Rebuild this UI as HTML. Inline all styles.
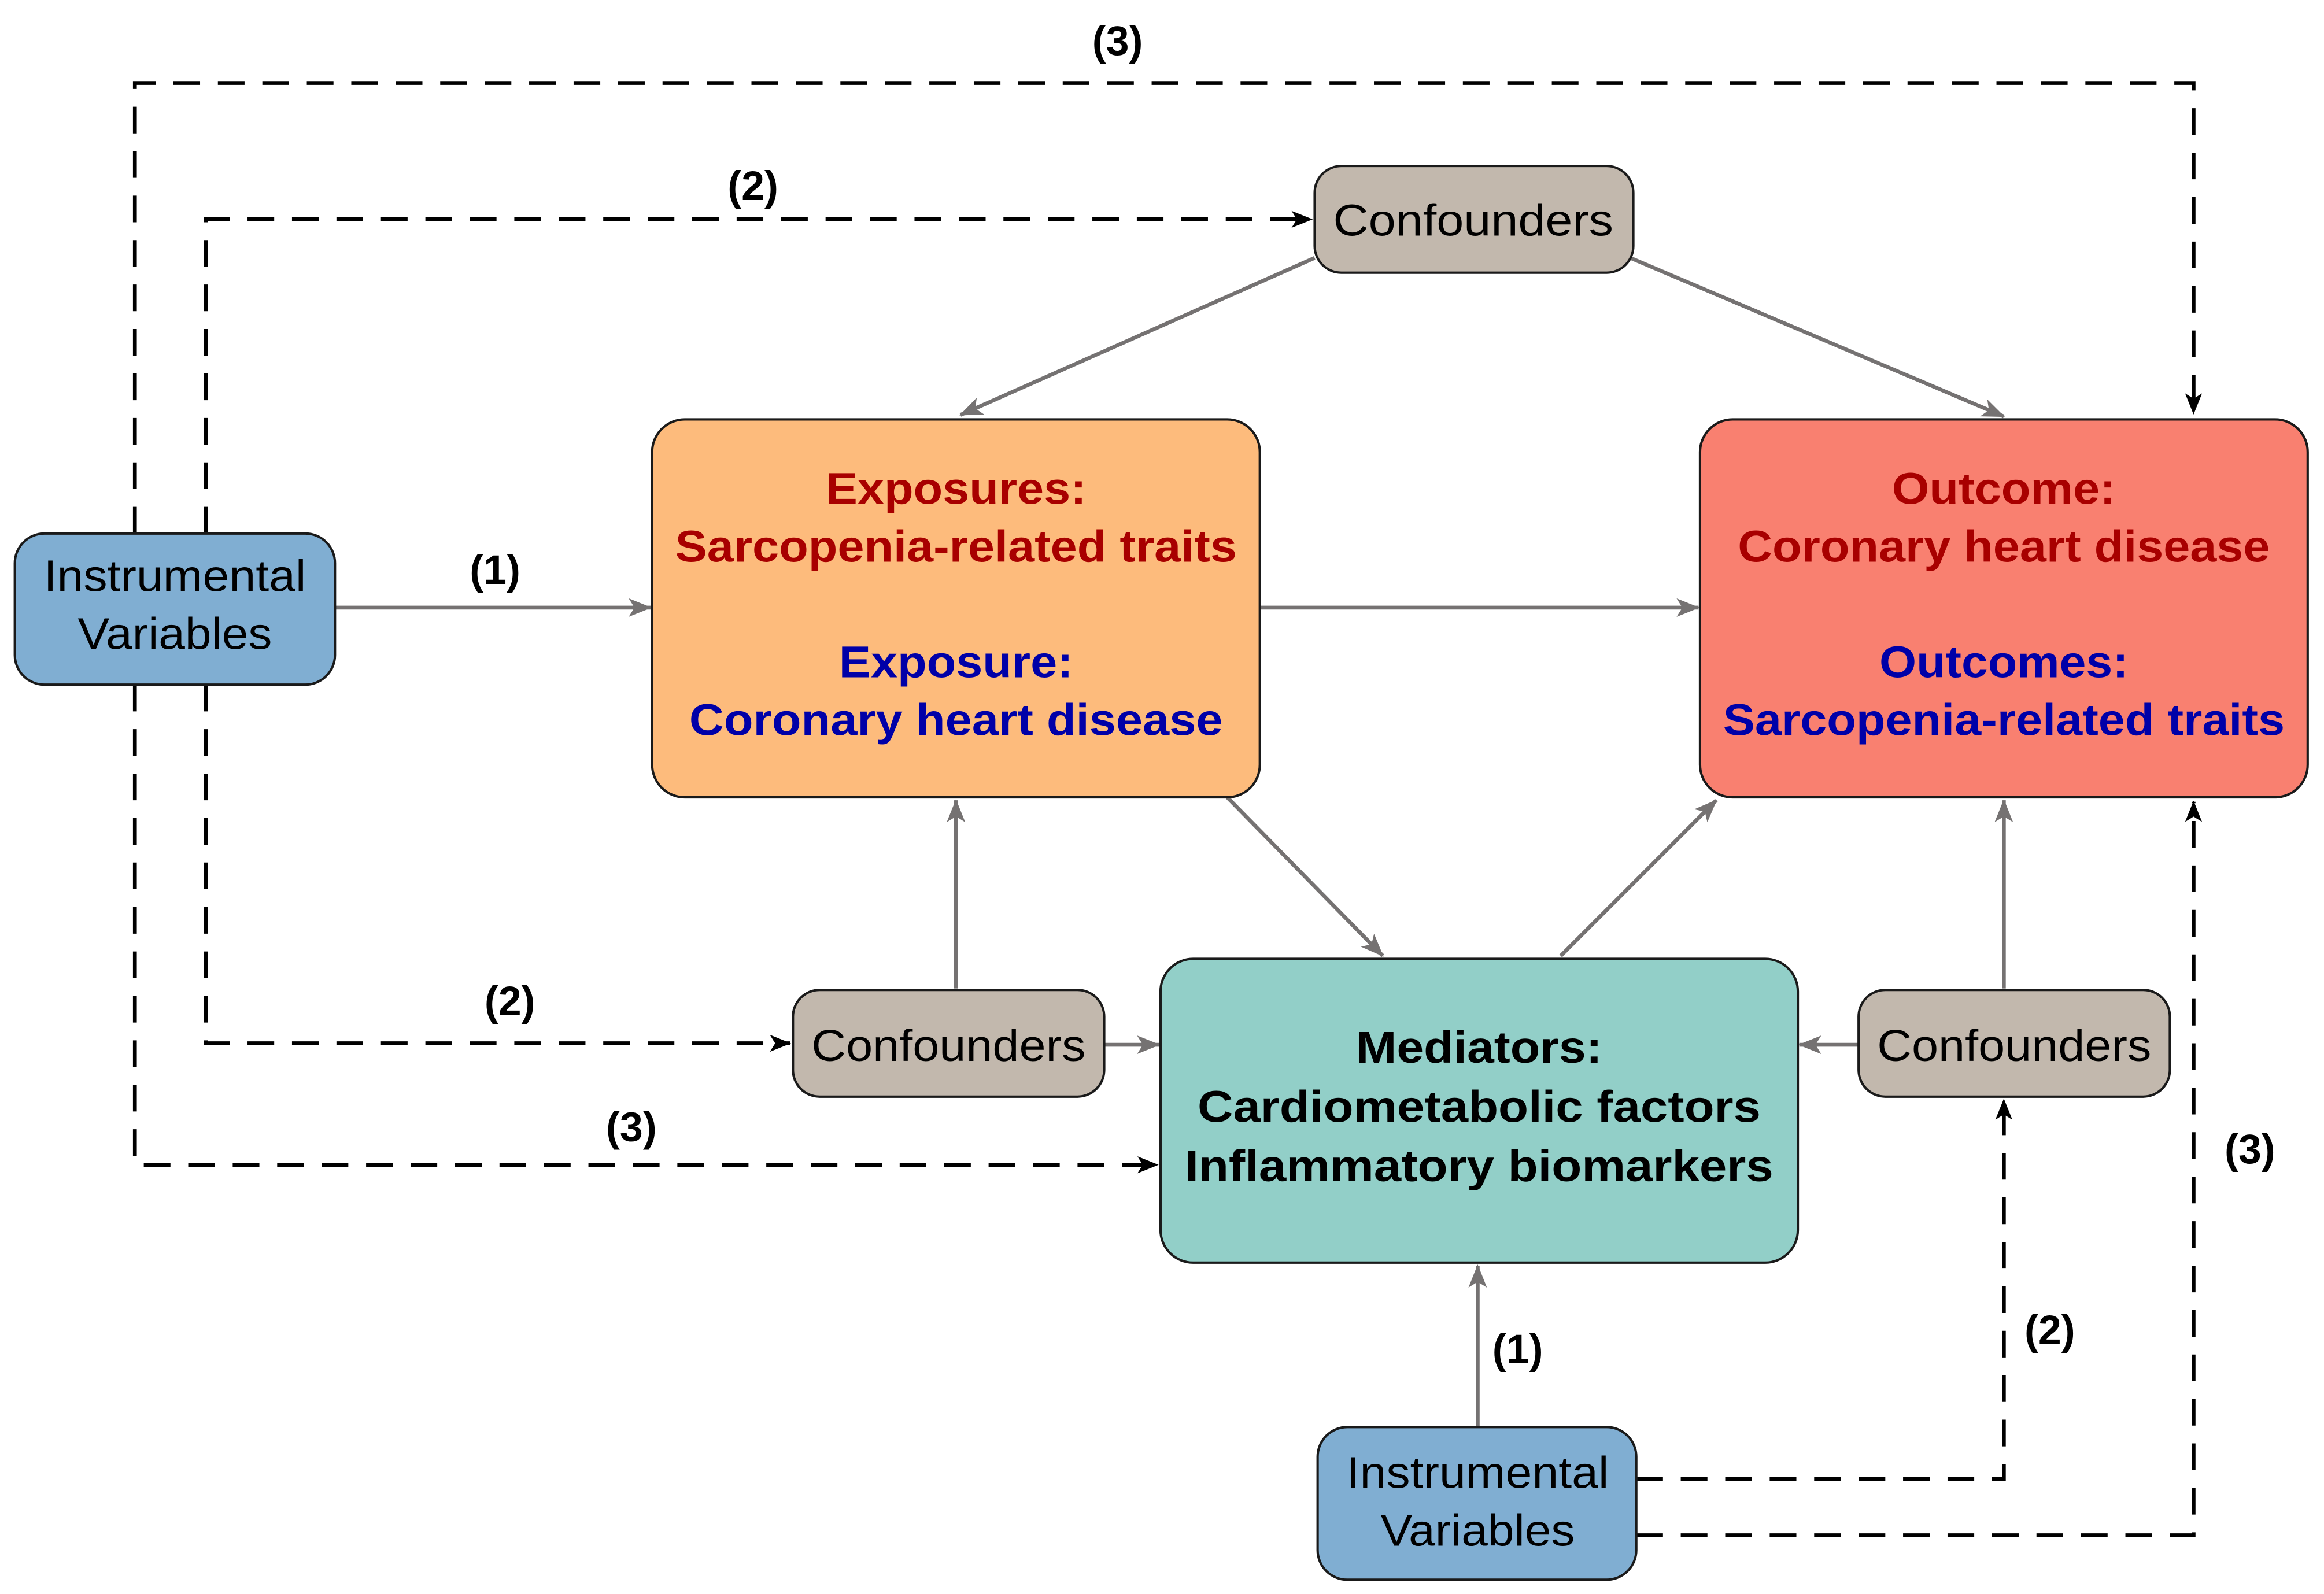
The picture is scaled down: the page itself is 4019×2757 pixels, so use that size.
<!DOCTYPE html>
<html><head><meta charset="utf-8"><style>
html,body{margin:0;padding:0;background:#fff;width:4019px;height:2757px;overflow:hidden}
svg{display:block}
text{font-family:"Liberation Sans",Arial,sans-serif}
</style></head><body>
<svg width="4019" height="2757" viewBox="0 0 1568 1075.6" xmlns="http://www.w3.org/2000/svg">
<defs>
<marker id="ga" viewBox="0 0 20 16" refX="19" refY="8" markerWidth="6" markerHeight="5" markerUnits="strokeWidth" orient="auto">
<path d="M0,0 L20,8 L0,16 L5,8 Z" fill="#757272"/></marker>
<marker id="ba" viewBox="0 0 20 16" refX="19" refY="8" markerWidth="5.5" markerHeight="4.5" markerUnits="strokeWidth" orient="auto">
<path d="M0,0 L20,8 L0,16 L5,8 Z" fill="#000"/></marker>
</defs>
<!-- dashed connectors -->
<g fill="none" stroke="#000" stroke-width="2.6" stroke-dasharray="18,12">
<path d="M91,360 V56 H1480 V279" marker-end="url(#ba)"/>
<path d="M139,360 V148 H885" marker-end="url(#ba)"/>
<path d="M139,462 V704 H533" marker-end="url(#ba)"/>
<path d="M91,462 V786 H781" marker-end="url(#ba)"/>
<path d="M1104,998 H1352 V742" marker-end="url(#ba)"/>
<path d="M1104,1036 H1480 V541" marker-end="url(#ba)"/>
</g>
<!-- solid gray connectors -->
<g fill="none" stroke="#757272" stroke-width="2.6">
<path d="M226,410 H439" marker-end="url(#ga)"/>
<path d="M850,410 H1146" marker-end="url(#ga)"/>
<path d="M887,174 L648,280" marker-end="url(#ga)"/>
<path d="M1100,174 L1352,281" marker-end="url(#ga)"/>
<path d="M828,538 L933,645" marker-end="url(#ga)"/>
<path d="M1053,645 L1158,540" marker-end="url(#ga)"/>
<path d="M645,667 V540" marker-end="url(#ga)"/>
<path d="M745,705 H782" marker-end="url(#ga)"/>
<path d="M1254,705 H1214" marker-end="url(#ga)"/>
<path d="M1352,667 V540" marker-end="url(#ga)"/>
<path d="M997,963 V854" marker-end="url(#ga)"/>
</g>
<!-- boxes -->
<g stroke="#1a1a1a" stroke-width="1.6">
<rect x="10" y="360" width="216" height="102" rx="20" fill="#80aed2"/>
<rect x="440" y="283" width="410" height="255" rx="22" fill="#fdbb7c"/>
<rect x="1147" y="283" width="410" height="255" rx="22" fill="#f98070"/>
<rect x="887" y="112" width="215" height="72" rx="18" fill="#c2b8ad"/>
<rect x="535" y="668" width="210" height="72" rx="18" fill="#c2b8ad"/>
<rect x="1254" y="668" width="210" height="72" rx="18" fill="#c2b8ad"/>
<rect x="783" y="647" width="430" height="205" rx="22" fill="#92cfc8"/>
<rect x="889" y="963" width="215" height="103" rx="20" fill="#80aed2"/>
</g>
<!-- texts -->
<g font-size="30" text-anchor="middle" fill="#000" lengthAdjust="spacingAndGlyphs">
<text x="118" y="399" textLength="177" lengthAdjust="spacingAndGlyphs">Instrumental</text>
<text x="118" y="438" textLength="131" lengthAdjust="spacingAndGlyphs">Variables</text>
<text x="997" y="1004" textLength="177" lengthAdjust="spacingAndGlyphs">Instrumental</text>
<text x="997" y="1043" textLength="131" lengthAdjust="spacingAndGlyphs">Variables</text>
<text x="994" y="159" textLength="189" lengthAdjust="spacingAndGlyphs">Confounders</text>
<text x="640" y="716" textLength="185" lengthAdjust="spacingAndGlyphs">Confounders</text>
<text x="1359" y="716" textLength="185" lengthAdjust="spacingAndGlyphs">Confounders</text>
</g>
<g font-size="30" font-weight="bold" text-anchor="middle">
<text x="645" y="340" fill="#a80000" textLength="176" lengthAdjust="spacingAndGlyphs">Exposures:</text>
<text x="645" y="379" fill="#a80000" textLength="379" lengthAdjust="spacingAndGlyphs">Sarcopenia-related traits</text>
<text x="645" y="457" fill="#0000a8" textLength="158" lengthAdjust="spacingAndGlyphs">Exposure:</text>
<text x="645" y="496" fill="#0000a8" textLength="360" lengthAdjust="spacingAndGlyphs">Coronary heart disease</text>
<text x="1352" y="340" fill="#a80000" textLength="151" lengthAdjust="spacingAndGlyphs">Outcome:</text>
<text x="1352" y="379" fill="#a80000" textLength="359" lengthAdjust="spacingAndGlyphs">Coronary heart disease</text>
<text x="1352" y="457" fill="#0000a8" textLength="168" lengthAdjust="spacingAndGlyphs">Outcomes:</text>
<text x="1352" y="496" fill="#0000a8" textLength="379" lengthAdjust="spacingAndGlyphs">Sarcopenia-related traits</text>
<text x="998" y="717" fill="#000" textLength="166" lengthAdjust="spacingAndGlyphs">Mediators:</text>
<text x="998" y="757" fill="#000" textLength="380" lengthAdjust="spacingAndGlyphs">Cardiometabolic factors</text>
<text x="998" y="797" fill="#000" textLength="397" lengthAdjust="spacingAndGlyphs">Inflammatory biomarkers</text>
</g>
<g font-size="28" font-weight="bold" text-anchor="middle" fill="#000">
<text x="334" y="394">(1)</text>
<text x="1024" y="920">(1)</text>
<text x="754" y="37">(3)</text>
<text x="508" y="135">(2)</text>
<text x="344" y="685">(2)</text>
<text x="426" y="770">(3)</text>
<text x="1383" y="907">(2)</text>
<text x="1518" y="785">(3)</text>
</g>
</svg>
</body></html>
